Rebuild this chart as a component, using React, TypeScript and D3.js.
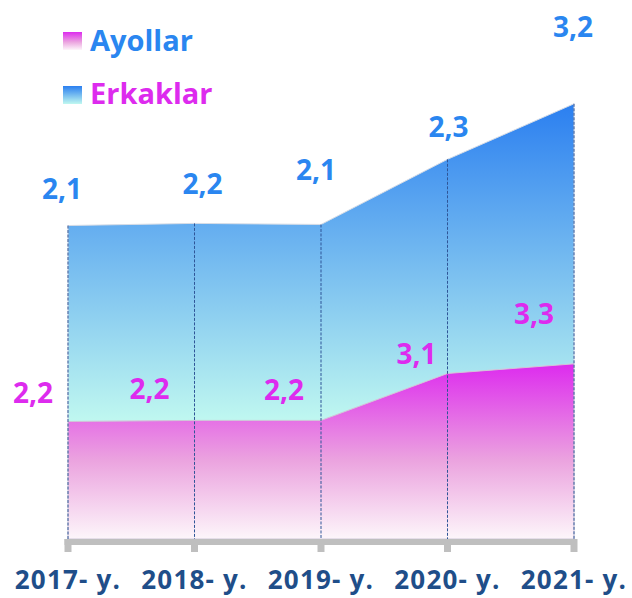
import React from 'react';
import * as d3 from 'd3';

const width = 632;
const height = 598;

// categories on the x axis
const years = ['2017- y.', '2018- y.', '2019- y.', '2020- y.', '2021- y.'];
// values printed on the chart
const ayollar = [2.2, 2.2, 2.2, 3.1, 3.3];
const erkaklar = [2.1, 2.2, 2.1, 2.3, 3.2];
// band thicknesses as they are drawn in the picture (not in scale with the printed values)
const pinkBand = [2.2, 2.22, 2.22, 3.1, 3.28];
const blueBand = [3.67, 3.69, 3.67, 4.01, 4.87];

// hand placed label offsets from the top of each band (dx, dy)
const blueLabelShift = [[-6, -27], [8, -29], [-5, -44], [1, -22], [-1, -67]];
const pinkLabelShift = [[-35, -19], [-45, -21], [-37, -20], [-31, -9], [-40, -40]];

const fmt = (v: number) => v.toFixed(1).replace('.', ',');
const font = "'Open Sans', 'Noto Sans', sans-serif";

const App = () => {
	const x = d3.scalePoint<string>().domain(years).range([68, 574]);
	const y = d3.scaleLinear().domain([0, 10]).range([539, 5]);

	const rows = years.map((yr, i) => ({ yr, pink: pinkBand[i], blue: blueBand[i] }));
	const stacked = d3.stack<any>().keys(['pink', 'blue'])(rows);

	const area = d3
		.area<any>()
		.x((d) => x(d.data.yr) as number)
		.y0((d) => y(d[0]))
		.y1((d) => y(d[1]));

	const pinkTop = stacked[0].map((d) => y(d[1]));
	const blueTop = stacked[1].map((d) => y(d[1]));

	return (
		<svg width={width} height={height} style={{ position: 'absolute', left: 0, top: 0 }}>
			<defs>
				<linearGradient id="gPink" x1="0" y1="0" x2="0" y2="1">
					<stop offset="0" stopColor="#dd2bee" />
					<stop offset="0.55" stopColor="#eba3df" />
					<stop offset="1" stopColor="#fdf6fa" />
				</linearGradient>
				<linearGradient id="gBlue" x1="0" y1="0" x2="0" y2="1">
					<stop offset="0" stopColor="#2b7ff0" />
					<stop offset="1" stopColor="#c0f8f0" />
				</linearGradient>
			</defs>

			<path d={area(stacked[1] as any) as string} fill="url(#gBlue)" stroke="#d6dce6" strokeWidth={1} />
			<path d={area(stacked[0] as any) as string} fill="url(#gPink)" stroke="#cfc6d8" strokeWidth={1} />

			{years.map((yr, i) => (
				<line
					key={yr}
					x1={x(yr)}
					x2={x(yr)}
					y1={blueTop[i]}
					y2={y(0)}
					stroke="#2f5597"
					strokeWidth={1}
					strokeDasharray="3 1.5"
				/>
			))}

			{/* axis */}
			<rect x={64.5} y={539} width={511} height={6} fill="#bfbfbf" />
			{years.map((yr) => (
				<rect key={yr} x={(x(yr) as number) - 3.5} y={539} width={7} height={13} fill="#bfbfbf" />
			))}
			{years.map((yr) => (
				<text
					key={yr}
					x={x(yr)}
					y={589}
					textAnchor="middle"
					fontFamily={font}
					fontWeight={700}
					fontSize={26}
					letterSpacing={1.2}
					fill="#1f4e89"
				>
					{yr}
				</text>
			))}

			{/* value labels */}
			{erkaklar.map((v, i) => (
				<text
					key={'b' + i}
					x={(x(years[i]) as number) + blueLabelShift[i][0]}
					y={blueTop[i] + blueLabelShift[i][1]}
					textAnchor="middle"
					fontFamily={font}
					fontWeight={700}
					fontSize={28}
					fill="#2a86f0"
				>
					{fmt(v)}
				</text>
			))}
			{ayollar.map((v, i) => (
				<text
					key={'p' + i}
					x={(x(years[i]) as number) + pinkLabelShift[i][0]}
					y={pinkTop[i] + pinkLabelShift[i][1]}
					textAnchor="middle"
					fontFamily={font}
					fontWeight={700}
					fontSize={28}
					fill="#dd2bee"
				>
					{fmt(v)}
				</text>
			))}

			{/* legend */}
			<rect x={63} y={32} width={19} height={18} fill="url(#gPink)" />
			<text x={90} y={51} fontFamily={font} fontWeight={700} fontSize={29} fill="#2a86f0">
				Ayollar
			</text>
			<rect x={63} y={86} width={19} height={18} fill="url(#gBlue)" />
			<text x={90} y={104} fontFamily={font} fontWeight={700} fontSize={29} fill="#dd2bee">
				Erkaklar
			</text>
		</svg>
	);
};

export default App;
